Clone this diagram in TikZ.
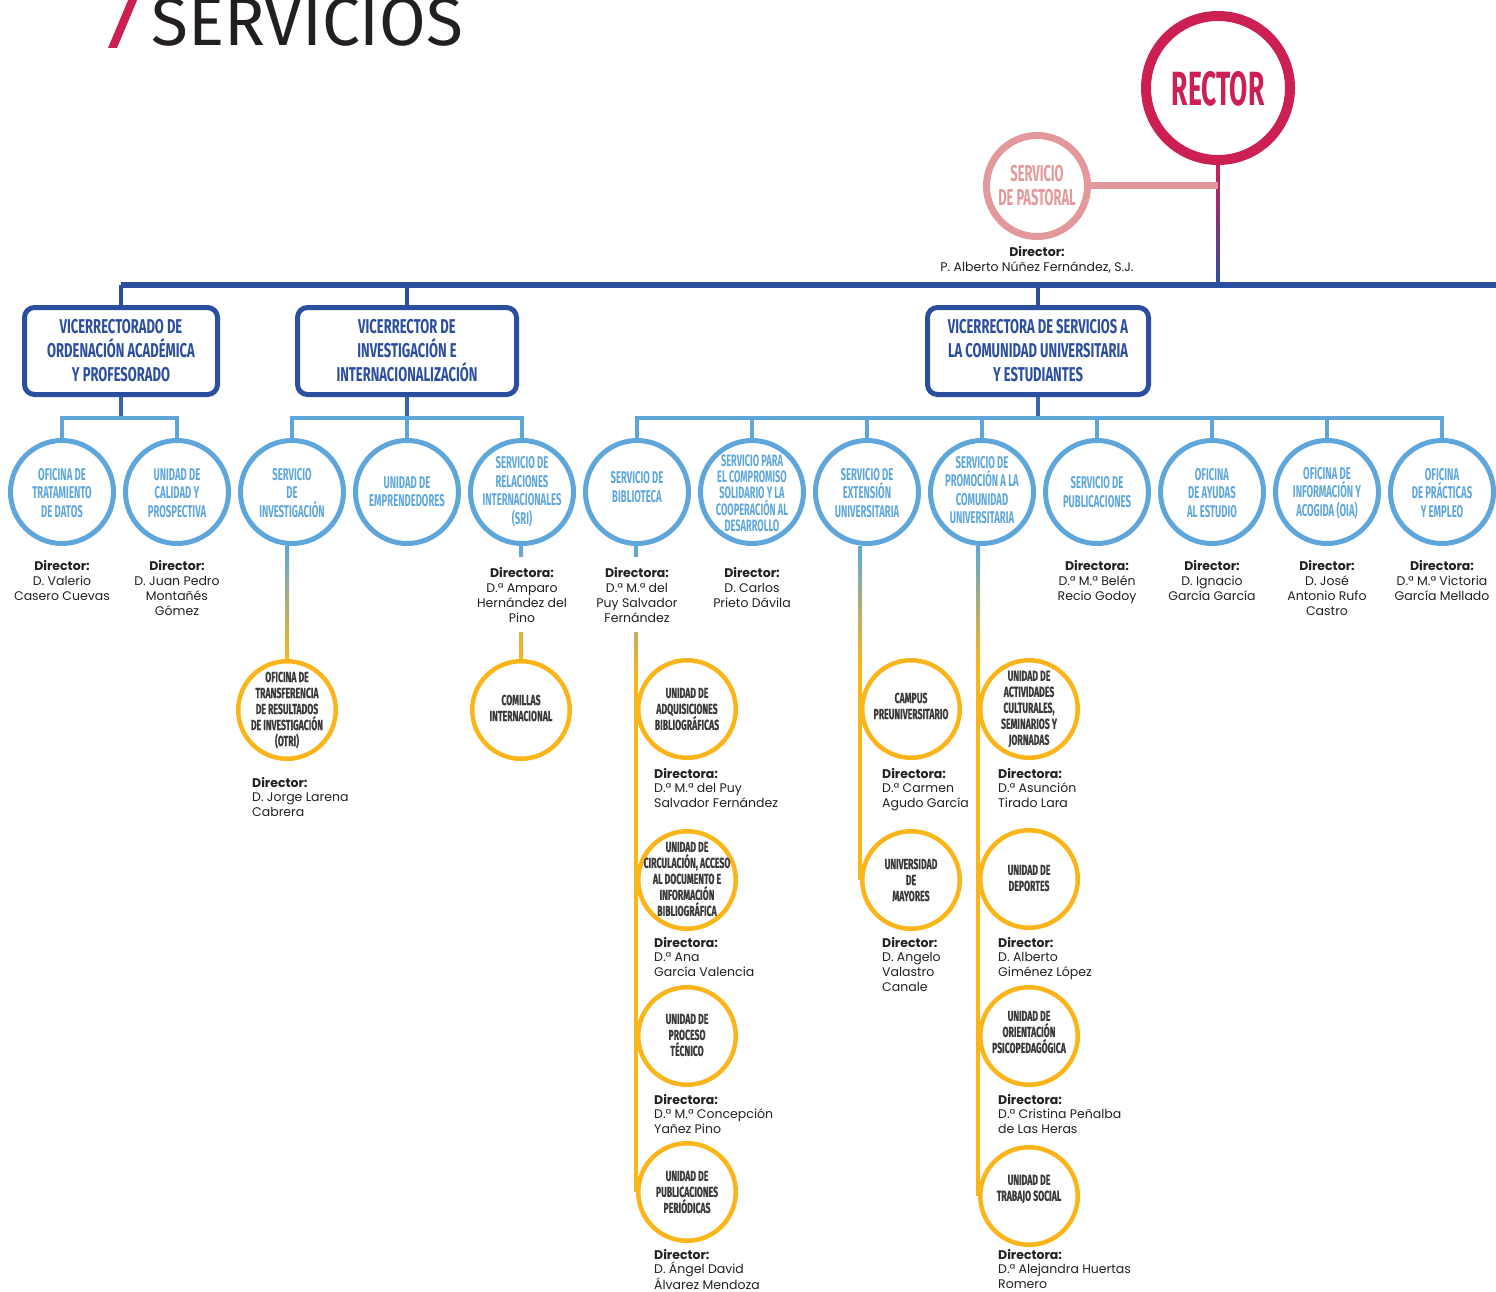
\documentclass[tikz,border=0pt]{standalone}
\usepackage{fontspec}
\setmainfont{Poppins}
\newfontfamily\condb[FakeStretch=0.56]{Fira Sans}
\newfontfamily\condx[FakeStretch=0.65]{Fira Sans}
\newfontfamily\condn[FakeStretch=0.55]{Fira Sans}
\newfontfamily\condy[FakeStretch=0.6,FakeBold=0.4]{Fira Sans}
\newfontfamily\ttlfont{Fira Sans}
\usetikzlibrary{calc}
\definecolor{dblue}{HTML}{2C4E9E}
\definecolor{lblue}{HTML}{5FA7DB}
\definecolor{crim}{HTML}{CC1F52}
\definecolor{pinkc}{HTML}{E3999B}
\definecolor{gold}{HTML}{FBB51A}
\definecolor{txt}{HTML}{231F20}
\definecolor{ytxt}{HTML}{3A3A3A}
\pgfdeclarelayer{bg}
\pgfsetlayers{bg,main}
\newcommand\mkblue[5]{\node[bcirc] (#1) at (#2,#3) {}; \node[btext] (#1-t) at (#2,#4) {#5};}
\newcommand\mkyel[5]{\node[ycirc] (#1) at (#2,#3) {}; \node[ytext] (#1-t) at (#2,#4) {#5};}
\begin{document}
\begin{tikzpicture}[x=1pt,y=-1pt,
  bcirc/.style={circle, draw=lblue, line width=5, minimum size=103, inner sep=0},
  btext/.style={align=center, text=lblue, inner sep=0, font=\condb\bfseries\fontsize{17}{18.5}\selectfont},
  ycirc/.style={circle, draw=gold, line width=4.5, minimum size=97.5, inner sep=0},
  ytext/.style={align=center, text=ytxt, inner sep=0, font=\condy\bfseries\fontsize{14.5}{16}\selectfont},
  vbox/.style={draw=dblue, line width=5, rounded corners=10, minimum height=87, align=center, text=dblue, inner sep=2, font=\condx\bfseries\fontsize{20}{24}\selectfont},
  dirc/.style={align=center, text=txt, inner sep=0, anchor=north, font=\fontsize{12.5}{15}\selectfont},
  dirl/.style={align=left, text=txt, inner sep=0, anchor=north west, font=\fontsize{12.5}{14.7}\selectfont},
  gline/.style={draw=gold, line width=4},
  bline/.style={draw=lblue, line width=4.5},
  stub/.style={draw=dblue!75!lblue, line width=4},
]
\useasboundingbox (0,0) rectangle (1496,1292);
\clip (0,0) rectangle (1496,1292);

% title
\fill[crim] (108,48) -- (117,48) -- (138,-2) -- (129,-2) -- cycle;
\node[anchor=base west, inner sep=0, text=txt] (title) at (151,46) {\resizebox{312pt}{48pt}{\ttlfont SERVICIOS}};

% rector and pastoral
\node[circle, draw=crim, line width=10, minimum size=144, inner sep=0] (rector) at (1218,88) {};
\node[text=crim, inner sep=0, font=\condn\bfseries\fontsize{48}{48}\selectfont] (rector-t) at (1218,89) {RECTOR};
\node[circle, draw=pinkc, line width=7, minimum size=101, inner sep=0] (past) at (1037,186) {};
\node[text=pinkc, align=center, inner sep=0, font=\condb\bfseries\fontsize{23}{24}\selectfont] (past-t) at (1037,186) {SERVICIO\\DE PASTORAL};
\node[dirc] (d-past) at (1037,246) {\textbf{Director:}\\P. Alberto Núñez Fernández, S.J.};

% vice-rectorates
\node[vbox, minimum width=193] (vice1) at (121,351) {VICERRECTORADO DE\\ORDENACIÓN ACADÉMICA\\Y PROFESORADO};
\node[vbox, minimum width=219] (vice2) at (407,351) {VICERRECTOR DE\\INVESTIGACIÓN E\\INTERNACIONALIZACIÓN};
\node[vbox, minimum width=221] (vice3) at (1038,351) {VICERRECTORA DE SERVICIOS A\\LA COMUNIDAD UNIVERSITARIA\\Y ESTUDIANTES};

% blue circles
\mkblue{otd}{62}{492}{493}{OFICINA DE\\TRATAMIENTO\\DE DATOS}
\mkblue{ucp}{177}{492}{493}{UNIDAD DE\\CALIDAD Y\\PROSPECTIVA}
\mkblue{sinv}{292}{492}{493}{SERVICIO\\DE\\INVESTIGACIÓN}
\mkblue{uemp}{407}{492}{492}{UNIDAD DE\\EMPRENDEDORES}
\mkblue{sri}{522}{492}{492}{SERVICIO DE\\RELACIONES\\INTERNACIONALES\\(SRI)}
\mkblue{sbib}{637}{492}{487}{SERVICIO DE\\BIBLIOTECA}
\node[bcirc] (scomp) at (752,492) {};
\node[btext, font=\condb\bfseries\fontsize{16.5}{16}\selectfont] (scomp-t) at (752,493) {SERVICIO PARA\\EL COMPROMISO\\SOLIDARIO Y LA\\COOPERACIÓN AL\\DESARROLLO};
\mkblue{sext}{867}{492}{493}{SERVICIO DE\\EXTENSIÓN\\UNIVERSITARIA}
\mkblue{sprom}{982}{492}{490}{SERVICIO DE\\PROMOCIÓN A LA\\COMUNIDAD\\UNIVERSITARIA}
\mkblue{spub}{1097}{492}{492}{SERVICIO DE\\PUBLICACIONES}
\mkblue{oae}{1212}{492}{493}{OFICINA\\DE AYUDAS\\AL ESTUDIO}
\mkblue{oia}{1327}{492}{493}{OFICINA DE\\INFORMACIÓN Y\\ACOGIDA (OIA)}
\mkblue{ope}{1442}{492}{493}{OFICINA\\DE PRÁCTICAS\\Y EMPLEO}

% yellow circles
\mkyel{otri}{287}{710}{710}{OFICINA DE\\TRANSFERENCIA\\DE RESULTADOS\\DE INVESTIGACIÓN\\(OTRI)}
\mkyel{comi}{521}{710}{708}{COMILLAS\\INTERNACIONAL}
\mkyel{uadq}{687}{709}{709}{UNIDAD DE\\ADQUISICIONES\\BIBLIOGRÁFICAS}
\mkyel{ucir}{687}{880}{879}{UNIDAD DE\\CIRCULACIÓN, ACCESO\\AL DOCUMENTO E\\INFORMACIÓN\\BIBLIOGRÁFICA}
\mkyel{uproc}{687}{1036}{1035}{UNIDAD DE\\PROCESO\\TÉCNICO}
\mkyel{upp}{687}{1192}{1192}{UNIDAD DE\\PUBLICACIONES\\PERIÓDICAS}
\mkyel{campus}{911}{709}{706}{CAMPUS\\PREUNIVERSITARIO}
\mkyel{umay}{911}{880}{880}{UNIVERSIDAD\\DE\\MAYORES}
\mkyel{uact}{1029}{709}{709}{UNIDAD DE\\ACTIVIDADES\\CULTURALES,\\SEMINARIOS Y\\JORNADAS}
\mkyel{udep}{1029}{879}{878}{UNIDAD DE\\DEPORTES}
\mkyel{uori}{1029}{1036}{1032}{UNIDAD DE\\ORIENTACIÓN\\PSICOPEDAGÓGICA}
\mkyel{uts}{1029}{1196}{1189}{UNIDAD DE\\TRABAJO SOCIAL}

% directors under blue circles
\node[dirc] (d-otd) at (62,560) {\textbf{Director:}\\D. Valerio\\Casero Cuevas};
\node[dirc] (d-ucp) at (177,560) {\textbf{Director:}\\D. Juan Pedro\\Montañés\\Gómez};
\node[dirc, fill=white, inner xsep=1, inner ysep=10] (d-sri) at (522,557) {\textbf{Directora:}\\D.ª Amparo\\Hernández del\\Pino};
\node[dirc, fill=white, inner xsep=1, inner ysep=10] (d-bib) at (637,557) {\textbf{Directora:}\\D.ª M.ª del\\Puy Salvador\\Fernández};
\node[dirc] (d-comp) at (752,567) {\textbf{Director:}\\D. Carlos\\Prieto Dávila};
\node[dirc] (d-pub) at (1097,560) {\textbf{Directora:}\\D.ª M.ª Belén\\Recio Godoy};
\node[dirc] (d-oae) at (1212,560) {\textbf{Director:}\\D. Ignacio\\García García};
\node[dirc] (d-oia) at (1327,560) {\textbf{Director:}\\D. José\\Antonio Rufo\\Castro};
\node[dirc] (d-ope) at (1442,560) {\textbf{Directora:}\\D.ª M.ª Victoria\\García Mellado};

% directors under yellow circles
\node[dirl] (d-otri) at (252,777) {\textbf{Director:}\\D. Jorge Larena\\Cabrera};
\node[dirl] (d-uadq) at (654,768) {\textbf{Directora:}\\D.ª M.ª del Puy\\Salvador Fernández};
\node[dirl] (d-ucir) at (654,937) {\textbf{Directora:}\\D.ª Ana\\García Valencia};
\node[dirl] (d-uproc) at (654,1094) {\textbf{Directora:}\\D.ª M.ª Concepción\\Yañez Pino};
\node[dirl] (d-upp) at (654,1249) {\textbf{Director:}\\D. Ángel David\\Álvarez Mendoza};
\node[dirl] (d-campus) at (882,768) {\textbf{Directora:}\\D.ª Carmen\\Agudo García};
\node[dirl] (d-umay) at (882,937) {\textbf{Director:}\\D. Angelo\\Valastro\\Canale};
\node[dirl] (d-uact) at (998,768) {\textbf{Directora:}\\D.ª Asunción\\Tirado Lara};
\node[dirl] (d-udep) at (998,937) {\textbf{Director:}\\D. Alberto\\Giménez López};
\node[dirl] (d-uori) at (998,1094) {\textbf{Directora:}\\D.ª Cristina Peñalba\\de Las Heras};
\node[dirl] (d-uts) at (998,1249) {\textbf{Directora:}\\D.ª Alejandra Huertas\\Romero};

% coordinates
\coordinate (busL) at (121,285);
\coordinate (busR) at (1500,285);
\coordinate (g1) at (121,418);
\coordinate (g2) at (407,418);
\coordinate (g3) at (1038,418);
\coordinate (bibx) at ($(sbib.south)+(-1,0)$);
\coordinate (bibmid) at (636,680);
\coordinate (extx) at ($(sext.south)+(-7,0)$);
\coordinate (extmid) at (860,665);
\coordinate (promx) at ($(sprom.south)+(-4,0)$);
\coordinate (prommid) at (978,665);

\begin{pgfonlayer}{bg}
  % rector line
  \shade[top color=crim, middle color=pinkc, bottom color=dblue] ($(rector.south)+(-1.5,0)$) rectangle ($(rector.south |- busL)+(1.5,0)$);
  \draw[pinkc, line width=7] (past.east) -- (past.east -| rector.south);
  % main bus
  \draw[dblue, line width=6] (busL) -- (busR);
  \draw[dblue, line width=4] (vice1.north |- busL) -- (vice1.north);
  \draw[dblue, line width=4] (vice2.north |- busL) -- (vice2.north);
  \draw[dblue, line width=4] (vice3.north |- busL) -- (vice3.north);
  % sub-buses
  \draw[stub] (vice1.south) -- (g1);
  \draw[stub] (vice2.south) -- (g2);
  \draw[stub] (vice3.south) -- (g3);
  \draw[bline] (otd.north) |- (g1) -| (ucp.north);
  \draw[bline] (sinv.north) |- (g2) -| (sri.north);
  \draw[bline] (uemp.north |- g2) -- (uemp.north);
  \draw[bline] (sbib.north) |- (g3) -| (ope.north);
  \foreach \n in {scomp,sext,sprom,spub,oae,oia}
    \draw[bline] (\n.north |- g3) -- (\n.north);
  % to yellow
  \shade[top color=lblue, bottom color=gold] ($(sinv.south -| otri.north)+(-2,0)$) rectangle ($(otri.north)+(2,0)$);
  \shade[top color=lblue, bottom color=gold] ($(sri.south -| comi.north)+(-2,0)$) rectangle ($(comi.north)+(2,0)$);
  \shade[top color=lblue, bottom color=gold] ($(bibx)+(-2,0)$) rectangle ($(bibmid)+(2,0)$);
  \draw[gline] (bibmid) -- (bibmid |- upp.center);
  \shade[top color=lblue, bottom color=gold] ($(extx)+(-2,0)$) rectangle ($(extmid)+(2,0)$);
  \draw[gline] (extmid) -- (extmid |- umay.center);
  \shade[top color=lblue, bottom color=gold] ($(promx)+(-2,0)$) rectangle ($(prommid)+(2,0)$);
  \draw[gline] (prommid) -- (prommid |- uts.center);
\end{pgfonlayer}
\end{tikzpicture}
\end{document}
